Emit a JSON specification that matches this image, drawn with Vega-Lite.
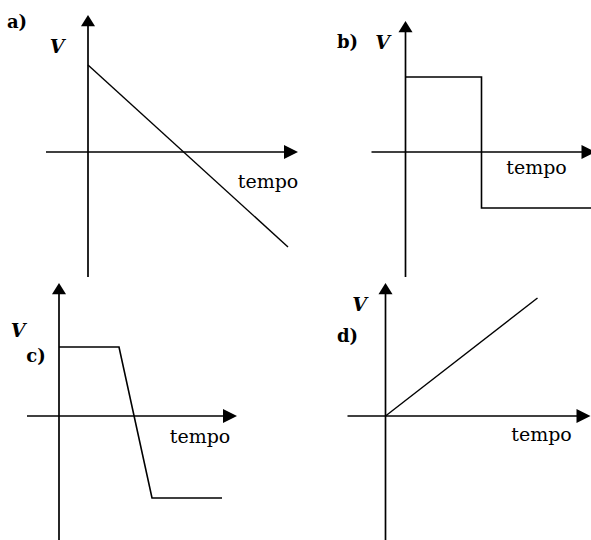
{
  "$schema": "https://vega.github.io/schema/vega-lite/v6.json",
  "padding": 0,
  "background": "white",
  "spacing": 0,
  "bounds": "flush",
  "columns": 2,
  "config": {"view": {"stroke": null}, "concat": {"spacing": 0}},
  "concat": [
    {
      "width": 295.5, "height": 270,
      "data": {"values": [
        {"kind": "axis", "t": -4.2, "v": 0, "t2": 20.5, "v2": 0},
        {"kind": "axis", "t": 0, "v": -12.5, "t2": 0, "v2": 13.0},
        {"kind": "arrowR", "t": 21.0, "v": 0},
        {"kind": "arrowU", "t": 0, "v": 13.7},
        {"kind": "curve", "t": 0, "v": 8.7, "ord": 1},
        {"kind": "curve", "t": 20.0, "v": -9.5, "ord": 2},
        {"kind": "letter", "t": -7.1, "v": 12.9, "label": "a)"},
        {"kind": "vlab", "t": -3.1, "v": 10.5, "label": "V"},
        {"kind": "tlab", "t": 18.0, "v": -3.0, "label": "tempo"}
      ]},
      "encoding": {
        "x": {"field": "t", "type": "quantitative", "scale": {"domain": [-8.8, 20.75], "nice": false, "zero": false}, "axis": null},
        "y": {"field": "v", "type": "quantitative", "scale": {"domain": [-11.8, 15.2], "nice": false, "zero": false}, "axis": null}
      },
      "layer": [
        {"transform": [{"filter": "datum.kind === 'axis'"}], "mark": {"type": "rule", "color": "black", "strokeWidth": 1.7, "clip": false}, "encoding": {"x2": {"field": "t2"}, "y2": {"field": "v2"}}},
        {"transform": [{"filter": "datum.kind === 'arrowR'"}], "mark": {"type": "point", "shape": "M-2,-1L0,0L-2,1Z", "size": 196, "filled": true, "color": "black", "opacity": 1, "clip": false}},
        {"transform": [{"filter": "datum.kind === 'arrowU'"}], "mark": {"type": "point", "shape": "M-1,1.6L0,0L1,1.6Z", "size": 196, "filled": true, "color": "black", "opacity": 1, "clip": false}},
        {"transform": [{"filter": "datum.kind === 'curve'"}], "mark": {"type": "line", "color": "black", "strokeWidth": 1.4, "clip": false}, "encoding": {"order": {"field": "ord", "type": "quantitative"}}},
        {"transform": [{"filter": "datum.kind === 'letter'"}], "mark": {"type": "text", "font": "DejaVu Serif", "fontWeight": "bold", "fontSize": 18, "align": "center", "baseline": "middle", "color": "black", "clip": false}, "encoding": {"text": {"field": "label"}}},
        {"transform": [{"filter": "datum.kind === 'vlab'"}], "mark": {"type": "text", "font": "DejaVu Serif", "fontWeight": "bold", "fontStyle": "italic", "fontSize": 19, "align": "center", "baseline": "middle", "color": "black", "clip": false}, "encoding": {"text": {"field": "label"}}},
        {"transform": [{"filter": "datum.kind === 'tlab'"}], "mark": {"type": "text", "font": "DejaVu Serif", "fontSize": 19, "align": "center", "baseline": "middle", "color": "black", "clip": false}, "encoding": {"text": {"field": "label"}}}
      ]
    },
    {
      "width": 295.5, "height": 270,
      "data": {"values": [
        {"kind": "axis", "t": -3.4, "v": 0, "t2": 18.5, "v2": 0},
        {"kind": "axis", "t": 0, "v": -12.5, "t2": 0, "v2": 12.5},
        {"kind": "arrowR", "t": 19.0, "v": 0},
        {"kind": "arrowU", "t": 0, "v": 13.1},
        {"kind": "curve", "t": 0, "v": 7.5, "ord": 1},
        {"kind": "curve", "t": 7.6, "v": 7.5, "ord": 2},
        {"kind": "curve", "t": 7.6, "v": -5.6, "ord": 3},
        {"kind": "curve", "t": 18.6, "v": -5.6, "ord": 4},
        {"kind": "letter", "t": -5.8, "v": 10.9, "label": "b)"},
        {"kind": "vlab", "t": -2.3, "v": 10.9, "label": "V"},
        {"kind": "tlab", "t": 13.1, "v": -1.6, "label": "tempo"}
      ]},
      "encoding": {
        "x": {"field": "t", "type": "quantitative", "scale": {"domain": [-10.95, 18.6], "nice": false, "zero": false}, "axis": null},
        "y": {"field": "v", "type": "quantitative", "scale": {"domain": [-11.8, 15.2], "nice": false, "zero": false}, "axis": null}
      },
      "layer": [
        {"transform": [{"filter": "datum.kind === 'axis'"}], "mark": {"type": "rule", "color": "black", "strokeWidth": 1.7, "clip": false}, "encoding": {"x2": {"field": "t2"}, "y2": {"field": "v2"}}},
        {"transform": [{"filter": "datum.kind === 'arrowR'"}], "mark": {"type": "point", "shape": "M-2,-1L0,0L-2,1Z", "size": 196, "filled": true, "color": "black", "opacity": 1, "clip": false}},
        {"transform": [{"filter": "datum.kind === 'arrowU'"}], "mark": {"type": "point", "shape": "M-1,1.6L0,0L1,1.6Z", "size": 196, "filled": true, "color": "black", "opacity": 1, "clip": false}},
        {"transform": [{"filter": "datum.kind === 'curve'"}], "mark": {"type": "line", "color": "black", "strokeWidth": 1.6, "clip": false}, "encoding": {"order": {"field": "ord", "type": "quantitative"}}},
        {"transform": [{"filter": "datum.kind === 'letter'"}], "mark": {"type": "text", "font": "DejaVu Serif", "fontWeight": "bold", "fontSize": 18, "align": "center", "baseline": "middle", "color": "black", "clip": false}, "encoding": {"text": {"field": "label"}}},
        {"transform": [{"filter": "datum.kind === 'vlab'"}], "mark": {"type": "text", "font": "DejaVu Serif", "fontWeight": "bold", "fontStyle": "italic", "fontSize": 19, "align": "center", "baseline": "middle", "color": "black", "clip": false}, "encoding": {"text": {"field": "label"}}},
        {"transform": [{"filter": "datum.kind === 'tlab'"}], "mark": {"type": "text", "font": "DejaVu Serif", "fontSize": 19, "align": "center", "baseline": "middle", "color": "black", "clip": false}, "encoding": {"text": {"field": "label"}}}
      ]
    },
    {
      "width": 295.5, "height": 270,
      "data": {"values": [
        {"kind": "axis", "t": -3.2, "v": 0, "t2": 17.3, "v2": 0},
        {"kind": "axis", "t": 0, "v": -12.6, "t2": 0, "v2": 12.5},
        {"kind": "arrowR", "t": 17.8, "v": 0},
        {"kind": "arrowU", "t": 0, "v": 13.3},
        {"kind": "curve", "t": 0, "v": 6.9, "ord": 1},
        {"kind": "curve", "t": 6.0, "v": 6.9, "ord": 2},
        {"kind": "curve", "t": 9.3, "v": -8.2, "ord": 3},
        {"kind": "curve", "t": 16.3, "v": -8.2, "ord": 4},
        {"kind": "letter", "t": -2.3, "v": 5.9, "label": "c)"},
        {"kind": "vlab", "t": -4.1, "v": 8.5, "label": "V"},
        {"kind": "tlab", "t": 14.1, "v": -2.1, "label": "tempo"}
      ]},
      "encoding": {
        "x": {"field": "t", "type": "quantitative", "scale": {"domain": [-5.9, 23.65], "nice": false, "zero": false}, "axis": null},
        "y": {"field": "v", "type": "quantitative", "scale": {"domain": [-12.4, 14.6], "nice": false, "zero": false}, "axis": null}
      },
      "layer": [
        {"transform": [{"filter": "datum.kind === 'axis'"}], "mark": {"type": "rule", "color": "black", "strokeWidth": 1.7, "clip": false}, "encoding": {"x2": {"field": "t2"}, "y2": {"field": "v2"}}},
        {"transform": [{"filter": "datum.kind === 'arrowR'"}], "mark": {"type": "point", "shape": "M-2,-1L0,0L-2,1Z", "size": 196, "filled": true, "color": "black", "opacity": 1, "clip": false}},
        {"transform": [{"filter": "datum.kind === 'arrowU'"}], "mark": {"type": "point", "shape": "M-1,1.6L0,0L1,1.6Z", "size": 196, "filled": true, "color": "black", "opacity": 1, "clip": false}},
        {"transform": [{"filter": "datum.kind === 'curve'"}], "mark": {"type": "line", "color": "black", "strokeWidth": 1.6, "clip": false}, "encoding": {"order": {"field": "ord", "type": "quantitative"}}},
        {"transform": [{"filter": "datum.kind === 'letter'"}], "mark": {"type": "text", "font": "DejaVu Serif", "fontWeight": "bold", "fontSize": 18, "align": "center", "baseline": "middle", "color": "black", "clip": false}, "encoding": {"text": {"field": "label"}}},
        {"transform": [{"filter": "datum.kind === 'vlab'"}], "mark": {"type": "text", "font": "DejaVu Serif", "fontWeight": "bold", "fontStyle": "italic", "fontSize": 19, "align": "center", "baseline": "middle", "color": "black", "clip": false}, "encoding": {"text": {"field": "label"}}},
        {"transform": [{"filter": "datum.kind === 'tlab'"}], "mark": {"type": "text", "font": "DejaVu Serif", "fontSize": 19, "align": "center", "baseline": "middle", "color": "black", "clip": false}, "encoding": {"text": {"field": "label"}}}
      ]
    },
    {
      "width": 295.5, "height": 270,
      "data": {"values": [
        {"kind": "axis", "t": -3.8, "v": 0, "t2": 19.8, "v2": 0},
        {"kind": "axis", "t": 0, "v": -12.6, "t2": 0, "v2": 12.5},
        {"kind": "arrowR", "t": 20.5, "v": 0},
        {"kind": "arrowU", "t": 0, "v": 13.3},
        {"kind": "curve", "t": 0, "v": 0, "ord": 1},
        {"kind": "curve", "t": 15.2, "v": 11.8, "ord": 2},
        {"kind": "letter", "t": -3.8, "v": 7.9, "label": "d)"},
        {"kind": "vlab", "t": -2.6, "v": 11.1, "label": "V"},
        {"kind": "tlab", "t": 15.6, "v": -1.9, "label": "tempo"}
      ]},
      "encoding": {
        "x": {"field": "t", "type": "quantitative", "scale": {"domain": [-8.95, 20.6], "nice": false, "zero": false}, "axis": null},
        "y": {"field": "v", "type": "quantitative", "scale": {"domain": [-12.4, 14.6], "nice": false, "zero": false}, "axis": null}
      },
      "layer": [
        {"transform": [{"filter": "datum.kind === 'axis'"}], "mark": {"type": "rule", "color": "black", "strokeWidth": 1.7, "clip": false}, "encoding": {"x2": {"field": "t2"}, "y2": {"field": "v2"}}},
        {"transform": [{"filter": "datum.kind === 'arrowR'"}], "mark": {"type": "point", "shape": "M-2,-1L0,0L-2,1Z", "size": 196, "filled": true, "color": "black", "opacity": 1, "clip": false}},
        {"transform": [{"filter": "datum.kind === 'arrowU'"}], "mark": {"type": "point", "shape": "M-1,1.6L0,0L1,1.6Z", "size": 196, "filled": true, "color": "black", "opacity": 1, "clip": false}},
        {"transform": [{"filter": "datum.kind === 'curve'"}], "mark": {"type": "line", "color": "black", "strokeWidth": 1.4, "clip": false}, "encoding": {"order": {"field": "ord", "type": "quantitative"}}},
        {"transform": [{"filter": "datum.kind === 'letter'"}], "mark": {"type": "text", "font": "DejaVu Serif", "fontWeight": "bold", "fontSize": 18, "align": "center", "baseline": "middle", "color": "black", "clip": false}, "encoding": {"text": {"field": "label"}}},
        {"transform": [{"filter": "datum.kind === 'vlab'"}], "mark": {"type": "text", "font": "DejaVu Serif", "fontWeight": "bold", "fontStyle": "italic", "fontSize": 19, "align": "center", "baseline": "middle", "color": "black", "clip": false}, "encoding": {"text": {"field": "label"}}},
        {"transform": [{"filter": "datum.kind === 'tlab'"}], "mark": {"type": "text", "font": "DejaVu Serif", "fontSize": 19, "align": "center", "baseline": "middle", "color": "black", "clip": false}, "encoding": {"text": {"field": "label"}}}
      ]
    }
  ]
}
